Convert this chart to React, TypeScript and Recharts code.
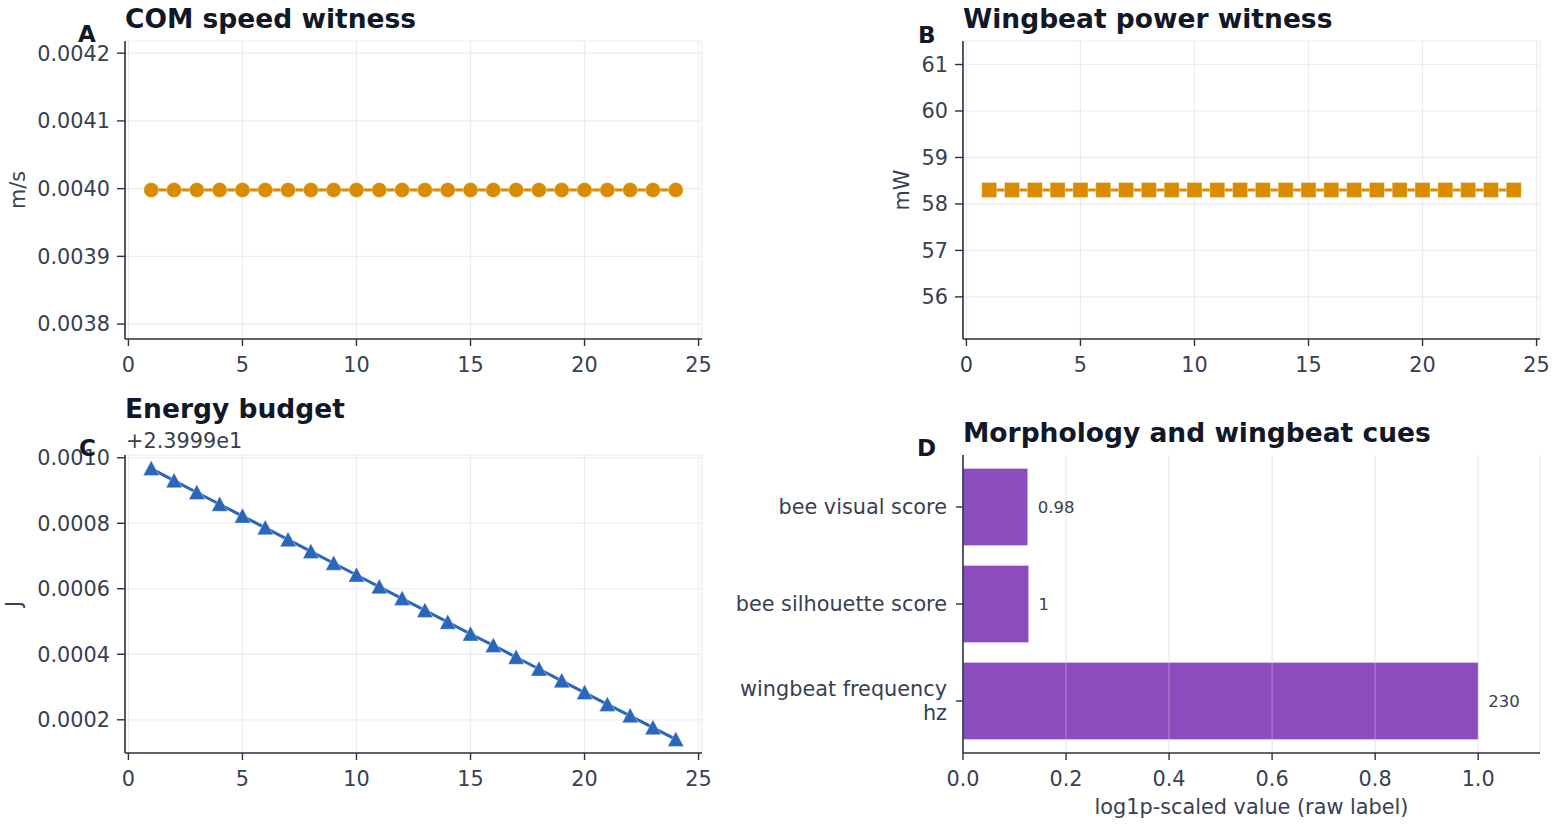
import React from 'react';
import {
  LineChart,
  Line,
  BarChart,
  Bar,
  XAxis,
  YAxis,
  CartesianGrid,
  LabelList,
  ReferenceLine,
} from 'recharts';

// Wingbeat steps shared by the three time panels
const STEPS = [1, 2, 3, 4, 5, 6, 7, 8, 9, 10, 11, 12, 13, 14, 15, 16, 17, 18, 19, 20, 21, 22, 23, 24];

// COM speed (m/s)
const COM_SPEED = [
  0.003998, 0.003998, 0.003998, 0.003998, 0.003998, 0.003998, 0.003998, 0.003998,
  0.003998, 0.003998, 0.003998, 0.003998, 0.003998, 0.003998, 0.003998, 0.003998,
  0.003998, 0.003998, 0.003998, 0.003998, 0.003998, 0.003998, 0.003998, 0.003998,
];

// Wingbeat power (mW)
const WING_POWER = [
  58.3, 58.3, 58.3, 58.3, 58.3, 58.3, 58.3, 58.3, 58.3, 58.3, 58.3, 58.3,
  58.3, 58.3, 58.3, 58.3, 58.3, 58.3, 58.3, 58.3, 58.3, 58.3, 58.3, 58.3,
];

// Remaining energy (J)
const ENERGY = [
  23.999967, 23.99993, 23.999894, 23.999858, 23.999822, 23.999786, 23.99975, 23.999714,
  23.999678, 23.999642, 23.999606, 23.99957, 23.999534, 23.999498, 23.999462, 23.999427,
  23.999391, 23.999355, 23.999319, 23.999283, 23.999247, 23.999212, 23.999176, 23.99914,
];
const ENERGY_OFFSET = 23.999;

// Morphology cues, raw values
const CUE_NAMES = ['bee visual score', 'bee silhouette score', 'wingbeat frequency hz'];
const CUE_RAW = [0.98, 1, 230];

const STEP_TICKS = [0, 5, 10, 15, 20, 25];
const SPEED_TICKS = [0.0038, 0.0039, 0.004, 0.0041, 0.0042];
const POWER_TICKS = [56, 57, 58, 59, 60, 61];
const ENERGY_TICKS = [23.9992, 23.9994, 23.9996, 23.9998, 24.0];
const CUE_TICKS = [0, 0.2, 0.4, 0.6, 0.8, 1.0];

const FONT = '"DejaVu Sans", sans-serif';
const TEXT = '#374151';
const INK = '#111827';
const SPINE = '#2b3340';
const GRID = '#e9ecf1';
const ORANGE = '#d98c00';
const BLUE = '#2a66b9';
const PURPLE = '#8b4cbd';
const FS = 20.8;

const seriesData = STEPS.map((step, i) => ({
  step,
  speed: COM_SPEED[i],
  power: WING_POWER[i],
  energy: ENERGY[i],
}));

const maxLog = Math.log1p(Math.max(...CUE_RAW));
const cueData = CUE_NAMES.map((name, i) => ({
  name,
  raw: CUE_RAW[i],
  scaled: Math.log1p(CUE_RAW[i]) / maxLog,
}));

const tickStyle = { fontSize: FS, fill: TEXT, fontFamily: FONT };
const axisLine = { stroke: SPINE, strokeWidth: 1.6 };
const tickLine = { stroke: SPINE, strokeWidth: 1.4 };

const CircleDot = (props: any) => {
  const { cx, cy, index } = props;
  return (
    <circle key={`c-${index}`} cx={cx} cy={cy} r={7.5} fill={ORANGE} stroke="#fff" strokeOpacity={0.35} strokeWidth={1} />
  );
};

const SquareDot = (props: any) => {
  const { cx, cy, index } = props;
  return (
    <rect key={`s-${index}`} x={cx - 7.5} y={cy - 7.5} width={15} height={15} fill={ORANGE} stroke="#fff" strokeOpacity={0.35} strokeWidth={1} />
  );
};

const TriangleDot = (props: any) => {
  const { cx, cy, index } = props;
  const h = 8;
  return (
    <polygon
      key={`t-${index}`}
      points={`${cx},${cy - h} ${cx - h},${cy + h - 1} ${cx + h},${cy + h - 1}`}
      fill={BLUE}
      stroke="#fff"
      strokeOpacity={0.35}
      strokeWidth={1}
    />
  );
};

// wrap long category names like textwrap does
const wrapLabel = (text: string, width: number) => {
  const lines: string[] = [];
  let cur = '';
  text.split(' ').forEach((w) => {
    if (!cur) cur = w;
    else if ((cur + ' ' + w).length <= width) cur += ' ' + w;
    else {
      lines.push(cur);
      cur = w;
    }
  });
  if (cur) lines.push(cur);
  return lines;
};

const CueTick = (props: any) => {
  const { x, y, payload } = props;
  const lines = wrapLabel(payload.value, 20);
  const lh = 24;
  const y0 = y - ((lines.length - 1) * lh) / 2;
  return (
    <text x={x} y={y0} textAnchor="end" fill={TEXT} fontSize={FS} fontFamily={FONT}>
      {lines.map((l, i) => (
        <tspan key={i} x={x} y={y0 + i * lh} dy="0.36em">
          {l}
        </tspan>
      ))}
    </text>
  );
};

const pos = (left: number, top: number): React.CSSProperties => ({ position: 'absolute', left, top });

const App = () => {
  return (
    <div style={{ position: 'absolute', left: 0, top: 0, width: 1563, height: 826, background: '#fff', fontFamily: FONT }}>
      {/* A: COM speed */}
      <div style={pos(0, 0)}>
        <LineChart width={720} height={400} data={seriesData} margin={{ top: 41, right: 18, bottom: 0, left: 0 }}>
          <CartesianGrid stroke={GRID} strokeWidth={1.2} />
          <XAxis
            dataKey="step"
            type="number"
            domain={[-0.15, 25.15]}
            ticks={STEP_TICKS}
            tick={tickStyle}
            tickSize={7}
            tickMargin={11}
            axisLine={axisLine}
            tickLine={tickLine}
            height={61}
          />
          <YAxis
            type="number"
            domain={[0.003778, 0.004218]}
            ticks={SPEED_TICKS}
            tickFormatter={(v: number) => v.toFixed(4)}
            tick={tickStyle}
            tickSize={8}
            tickMargin={7}
            axisLine={axisLine}
            tickLine={tickLine}
            width={125}
          />
          <Line dataKey="speed" stroke={ORANGE} strokeWidth={3} dot={CircleDot} isAnimationActive={false} />
        </LineChart>
      </div>

      {/* B: wingbeat power */}
      <div style={pos(850, 0)}>
        <LineChart width={713} height={400} data={seriesData} margin={{ top: 41, right: 23, bottom: 0, left: 0 }}>
          <CartesianGrid stroke={GRID} strokeWidth={1.2} />
          <XAxis
            dataKey="step"
            type="number"
            domain={[-0.15, 25.15]}
            ticks={STEP_TICKS}
            tick={tickStyle}
            tickSize={7}
            tickMargin={11}
            axisLine={axisLine}
            tickLine={tickLine}
            height={61}
          />
          <YAxis
            type="number"
            domain={[55.094, 61.506]}
            ticks={POWER_TICKS}
            tick={tickStyle}
            tickSize={8}
            tickMargin={7}
            axisLine={axisLine}
            tickLine={tickLine}
            width={113}
          />
          <Line dataKey="power" stroke={ORANGE} strokeWidth={3} dot={SquareDot} isAnimationActive={false} />
        </LineChart>
      </div>

      {/* C: energy budget */}
      <div style={pos(0, 420)}>
        <LineChart width={720} height={400} data={seriesData} margin={{ top: 35, right: 18, bottom: 0, left: 0 }}>
          <CartesianGrid stroke={GRID} strokeWidth={1.2} />
          <XAxis
            dataKey="step"
            type="number"
            domain={[-0.15, 25.15]}
            ticks={STEP_TICKS}
            tick={tickStyle}
            tickSize={7}
            tickMargin={11}
            axisLine={axisLine}
            tickLine={tickLine}
            height={67}
          />
          <YAxis
            type="number"
            domain={[23.9990986, 24.0000084]}
            ticks={ENERGY_TICKS}
            tickFormatter={(v: number) => (v - ENERGY_OFFSET).toFixed(4)}
            tick={tickStyle}
            tickSize={8}
            tickMargin={7}
            axisLine={axisLine}
            tickLine={tickLine}
            width={125}
          />
          <Line dataKey="energy" stroke={BLUE} strokeWidth={3} dot={TriangleDot} isAnimationActive={false} />
        </LineChart>
      </div>

      {/* D: morphology cues */}
      <div style={pos(700, 420)}>
        <BarChart
          width={863}
          height={400}
          data={cueData}
          layout="vertical"
          margin={{ top: 35, right: 23, bottom: 0, left: 0 }}
        >
          <CartesianGrid stroke={GRID} strokeWidth={1.2} horizontal={false} />
          <XAxis
            type="number"
            dataKey="scaled"
            domain={[0, 1.12]}
            ticks={CUE_TICKS}
            tickFormatter={(v: number) => v.toFixed(1)}
            tick={tickStyle}
            tickSize={7}
            tickMargin={11}
            axisLine={axisLine}
            tickLine={tickLine}
            height={67}
          />
          <YAxis
            type="category"
            dataKey="name"
            tick={<CueTick />}
            tickSize={7}
            tickMargin={9}
            axisLine={axisLine}
            tickLine={tickLine}
            width={263}
            padding={{ top: 3.5, bottom: 3.5 }}
          />
          <Bar dataKey="scaled" fill={PURPLE} barSize={77} stroke="#fff" strokeOpacity={0.3} strokeWidth={1.2} isAnimationActive={false}>
            <LabelList dataKey="raw" position="right" offset={10} fill={TEXT} fontSize={16.5} fontFamily={FONT} />
          </Bar>
          {CUE_TICKS.slice(1, 5).map((t) => (
            <ReferenceLine key={t} x={t} stroke="#e6e9ef" strokeOpacity={0.35} strokeWidth={1.2} />
          ))}
        </BarChart>
      </div>

      {/* titles, panel letters and axis titles */}
      <svg width={1563} height={826} style={{ position: 'absolute', left: 0, top: 0, pointerEvents: 'none' }} fontFamily={FONT}>
        <g fill={INK} fontWeight="bold" fontSize={26.5}>
          <text x={125} y={27.5}>COM speed witness</text>
          <text x={963} y={27.5}>Wingbeat power witness</text>
          <text x={125} y={418}>Energy budget</text>
          <text x={963} y={441.5}>Morphology and wingbeat cues</text>
        </g>
        <g fill={INK} fontWeight="bold" fontSize={23}>
          <text x={78} y={41.5}>A</text>
          <text x={918} y={42.5}>B</text>
          <text x={79} y={456}>C</text>
          <text x={917} y={456}>D</text>
        </g>
        <g fill={TEXT} fontSize={FS}>
          <text x={126} y={448}>+2.3999e1</text>
          <text x={1251.5} y={814} textAnchor="middle">log1p-scaled value (raw label)</text>
          <text transform="translate(25,190) rotate(-90)" textAnchor="middle">m/s</text>
          <text transform="translate(909,190) rotate(-90)" textAnchor="middle">mW</text>
          <text transform="translate(21,604) rotate(-90)" textAnchor="middle">J</text>
        </g>
      </svg>
    </div>
  );
};

export default App;
